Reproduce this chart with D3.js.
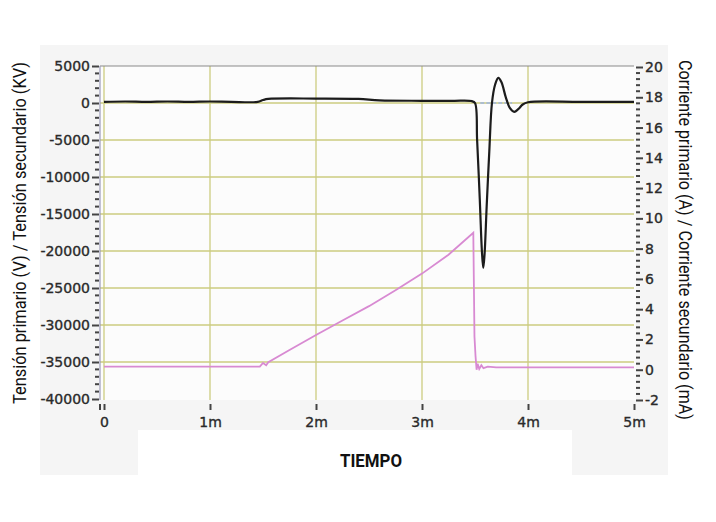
<!DOCTYPE html>
<html>
<head>
<meta charset="utf-8">
<script src="https://cdn.jsdelivr.net/npm/d3@7"></script>
<style>
  body { margin: 0; background: #fff; }
  svg { display: block; }
</style>
</head>
<body>
<svg id="chart"></svg>
<script>
// time in ms, voltage (left axis)
const blackTime = [0, 0.2, 0.4, 0.6, 0.8, 1.0, 1.2, 1.45, 1.5, 1.55, 2.0, 2.4, 2.6, 3.0, 3.3, 3.47, 3.5, 3.52, 3.545, 3.565, 3.578, 3.59, 3.61, 3.635, 3.66, 3.69, 3.72, 3.75, 3.79, 3.83, 3.87, 3.91, 3.95, 4.0, 4.5, 5.0];
const blackVolt = [150, 200, 150, 200, 150, 200, 150, 150, 400, 550, 600, 550, 350, 300, 300, 250, 0, -5000, -13000, -20000, -22300, -20500, -14000, -6500, 0, 2500, 3400, 2800, 800, -700, -1200, -800, -200, 100, 150, 150];

// faint trace hidden behind the black one
const blueTime = [3.55, 3.85];
const blueVolt = [0, 0];

// time in ms, current (right axis)
const pinkTime = [0, 0.5, 1.0, 1.47, 1.5, 1.53, 1.55, 1.75, 2.0, 2.25, 2.5, 2.75, 3.0, 3.25, 3.484, 3.495, 3.505, 3.515, 3.525, 3.54, 3.56, 3.58, 3.62, 3.7, 4.0, 5.0];
const pinkCurrent = [0.2, 0.2, 0.2, 0.2, 0.45, 0.3, 0.5, 1.3, 2.3, 3.25, 4.2, 5.25, 6.35, 7.6, 9.05, 2.2, 0.9, 0.0, 0.4, 0.05, 0.3, 0.1, 0.2, 0.15, 0.15, 0.15];

const xTicks = [0, 1, 2, 3, 4, 5];
const xTickLabels = ['0', '1m', '2m', '3m', '4m', '5m'];
const leftTicks = [5000, 0, -5000, -10000, -15000, -20000, -25000, -30000, -35000, -40000];
const rightTicks = [20, 18, 16, 14, 12, 10, 8, 6, 4, 2, 0, -2];

function drawChart() {
  const W = 716, H = 522;
  const chart = d3.select('#chart').attr('width', W).attr('height', H);

  const left = 100, right = 636, top = 66, bottom = 400;

  const x = d3.scaleLinear().domain([0, 5]).range([104, 634]);
  const yL = d3.scaleLinear().domain([-40000, 5000]).range([399, 66]);
  const yR = d3.scaleLinear().domain([-2, 20]).range([400, 67]);

  // background panels
  chart.append('rect').attr('x', 40).attr('y', 45).attr('width', 628).attr('height', 430).attr('fill', '#f5f5f5');
  chart.append('rect').attr('x', left).attr('y', top).attr('width', right - left).attr('height', bottom - top).attr('fill', '#fcfcfc');
  chart.append('rect').attr('x', 138).attr('y', 430).attr('width', 434).attr('height', 45).attr('fill', '#ffffff');

  const gridColor = '#cccc80';

  // horizontal grid
  chart.append('g').selectAll('line')
    .data(leftTicks.filter(d => d < 5000 && d > -40000)).enter()
    .append('line')
    .attr('x1', left).attr('x2', 634)
    .attr('y1', d => yL(d)).attr('y2', d => yL(d))
    .attr('stroke', gridColor).attr('stroke-width', 1.3);

  // vertical grid
  chart.append('g').selectAll('line')
    .data(xTicks.filter(d => d < 5)).enter()
    .append('line')
    .attr('x1', d => x(d)).attr('x2', d => x(d))
    .attr('y1', top).attr('y2', bottom)
    .attr('stroke', gridColor).attr('stroke-width', 1.3);

  // top border + left axis line
  chart.append('line').attr('x1', left).attr('x2', 634).attr('y1', top).attr('y2', top)
    .attr('stroke', '#8a8a8a').attr('stroke-width', 1.2);
  chart.append('line').attr('x1', left).attr('x2', left).attr('y1', top).attr('y2', bottom)
    .attr('stroke', '#9a9ab8').attr('stroke-width', 1.2);

  const tickFont = 'DejaVu Sans, Verdana, sans-serif';

  // left axis
  const leftAxis = d3.axisLeft(yL)
    .tickValues(leftTicks)
    .tickSize(7)
    .tickFormat(d => d);
  const gL = chart.append('g').attr('transform', `translate(${left - 1},0)`).call(leftAxis);
  gL.select('.domain').remove();
  gL.selectAll('.tick line').attr('stroke', '#444').attr('stroke-width', 2);
  gL.selectAll('.tick text').attr('x', -9).attr('font-family', tickFont)
    .attr('font-size', 14).attr('fill', '#2a2a2a').attr('stroke', '#2a2a2a').attr('stroke-width', 0.35);
  // minor ticks
  const leftMinor = d3.range(-40000, 5000, 1000).filter(d => d % 5000 !== 0);
  chart.append('g').selectAll('line')
    .data(leftMinor).enter()
    .append('line')
    .attr('x1', left - 5).attr('x2', left - 1)
    .attr('y1', d => yL(d)).attr('y2', d => yL(d))
    .attr('stroke', '#444').attr('stroke-width', 2);

  // right axis
  const rightAxis = d3.axisRight(yR)
    .tickValues(rightTicks)
    .tickSize(7)
    .tickFormat(d => d);
  const gR = chart.append('g').attr('transform', `translate(${right},0)`).call(rightAxis);
  gR.select('.domain').remove();
  gR.selectAll('.tick line').attr('stroke', '#444').attr('stroke-width', 2);
  gR.selectAll('.tick text').attr('x', 9).attr('font-family', tickFont)
    .attr('font-size', 14).attr('fill', '#2a2a2a').attr('stroke', '#2a2a2a').attr('stroke-width', 0.35);
  const rightMinor = d3.range(-2, 20, 0.4).filter(d => Math.abs(d / 2 - Math.round(d / 2)) > 0.01);
  chart.append('g').selectAll('line')
    .data(rightMinor).enter()
    .append('line')
    .attr('x1', right).attr('x2', right + 4)
    .attr('y1', d => yR(d)).attr('y2', d => yR(d))
    .attr('stroke', '#444').attr('stroke-width', 2);

  // bottom axis (no line, only ticks)
  const bottomAxis = d3.axisBottom(x)
    .tickValues(xTicks)
    .tickSize(6)
    .tickPadding(7)
    .tickFormat((d, i) => xTickLabels[i]);
  const gB = chart.append('g').attr('transform', `translate(0,${bottom + 4})`).call(bottomAxis);
  gB.select('.domain').remove();
  gB.selectAll('.tick line').attr('stroke', '#444').attr('stroke-width', 2);
  gB.selectAll('.tick text').attr('font-family', tickFont)
    .attr('font-size', 14).attr('fill', '#2a2a2a').attr('stroke', '#2a2a2a').attr('stroke-width', 0.35);
  // second small tick at origin ("II")
  chart.append('line').attr('x1', left).attr('x2', left).attr('y1', bottom + 4).attr('y2', bottom + 10)
    .attr('stroke', '#444').attr('stroke-width', 2);

  // traces
  const blackData = blackTime.map((t, i) => ({ t: t, v: blackVolt[i] }));
  const blueData = blueTime.map((t, i) => ({ t: t, v: blueVolt[i] }));
  const pinkData = pinkTime.map((t, i) => ({ t: t, v: pinkCurrent[i] }));

  const lineL = d3.line().x(d => x(d.t)).y(d => yL(d.v)).curve(d3.curveCatmullRom.alpha(0.5));
  const lineR = d3.line().x(d => x(d.t)).y(d => yR(d.v));

  chart.append('path')
    .attr('d', d3.line().x(d => x(d.t)).y(d => yL(d.v))(blueData))
    .attr('fill', 'none').attr('stroke', '#9db4e0').attr('stroke-width', 1.5)
    .attr('stroke-dasharray', '4,2');

  chart.append('path')
    .attr('d', lineR(pinkData))
    .attr('fill', 'none').attr('stroke', '#d88ad2').attr('stroke-width', 1.8);

  chart.append('path')
    .attr('d', lineL(blackData))
    .attr('fill', 'none').attr('stroke', '#1c1c1c').attr('stroke-width', 2.2);

  // axis titles
  chart.append('text')
    .attr('transform', 'translate(26,233) rotate(-90)')
    .attr('text-anchor', 'middle')
    .attr('font-family', 'Liberation Sans Narrow, Roboto, sans-serif')
    .attr('font-size', 18).attr('fill', '#111')
    .attr('textLength', 342).attr('lengthAdjust', 'spacingAndGlyphs')
    .text('Tensión primario (V) / Tensión secundario (KV)');

  chart.append('text')
    .attr('transform', 'translate(679,240) rotate(90)')
    .attr('text-anchor', 'middle')
    .attr('font-family', 'Liberation Sans Narrow, Roboto, sans-serif')
    .attr('font-size', 18).attr('fill', '#111')
    .attr('textLength', 360).attr('lengthAdjust', 'spacingAndGlyphs')
    .text('Corriente primario (A) / Corriente secundario (mA)');

  chart.append('text')
    .attr('x', 371).attr('y', 467)
    .attr('text-anchor', 'middle')
    .attr('font-family', 'Liberation Sans Narrow, Roboto, sans-serif')
    .attr('font-weight', 'bold')
    .attr('font-size', 19).attr('fill', '#111')
    .attr('textLength', 62).attr('lengthAdjust', 'spacingAndGlyphs')
    .text('TIEMPO');
}

drawChart();
</script>
</body>
</html>
